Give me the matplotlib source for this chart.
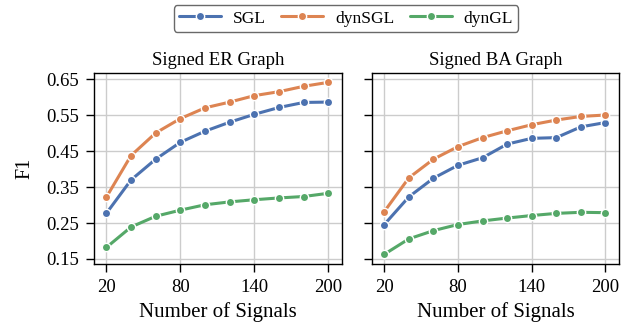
import matplotlib
matplotlib.use("Agg")
import matplotlib.pyplot as plt
import seaborn as sns

sns.set_theme(style="whitegrid")
plt.rcParams['font.family'] = ['Liberation Serif', 'DejaVu Serif']
plt.rcParams['mathtext.fontset'] = 'stix'

signals = [20, 40, 60, 80, 100, 120, 140, 160, 180, 200]
xticks = [20, 80, 140, 200]
yticks = [0.15, 0.25, 0.35, 0.45, 0.55, 0.65]
titles = ["Signed ER Graph", "Signed BA Graph"]
methods = ["SGL", "dynSGL", "dynGL"]

er_sgl = [0.277, 0.370, 0.428, 0.475, 0.506, 0.531, 0.553, 0.572, 0.586, 0.587]
er_dynsgl = [0.322, 0.438, 0.501, 0.541, 0.571, 0.587, 0.605, 0.616, 0.631, 0.642]
er_dyngl = [0.182, 0.239, 0.269, 0.286, 0.301, 0.309, 0.315, 0.320, 0.324, 0.333]

ba_sgl = [0.246, 0.323, 0.375, 0.411, 0.432, 0.470, 0.486, 0.488, 0.518, 0.530]
ba_dynsgl = [0.282, 0.376, 0.428, 0.463, 0.488, 0.507, 0.524, 0.537, 0.547, 0.551]
ba_dyngl = [0.163, 0.206, 0.229, 0.246, 0.256, 0.264, 0.271, 0.277, 0.280, 0.279]

panels = [[er_sgl, er_dynsgl, er_dyngl], [ba_sgl, ba_dynsgl, ba_dyngl]]
colors = sns.color_palette("deep")[:3]

fig = plt.figure(figsize=(6.36, 3.35), dpi=100)
W, H = 636, 335
axes = [fig.add_axes([94/W, 1 - 264/H, (342-94)/W, (264-73)/H]),
        fig.add_axes([372/W, 1 - 264/H, (619-372)/W, (264-73)/H])]

handles = []
for i, ax in enumerate(axes):
    for j, series in enumerate(panels[i]):
        h, = ax.plot(signals, series, color=colors[j], lw=2.2, marker='o', ms=6,
                     markeredgecolor='white', markeredgewidth=1, label=methods[j])
        if i == 0:
            handles.append(h)
    ax.set_xlim(10, 211)
    ax.set_ylim(0.136, 0.668)
    ax.set_xticks(xticks)
    ax.set_yticks(yticks)
    ax.set_yticklabels([f"{t:.2f}" for t in yticks] if i == 0 else [])
    ax.set_title(titles[i], fontsize=13.5, pad=6)
    ax.set_xlabel("Number of Signals", fontsize=15, labelpad=4)
    for s in ax.spines.values():
        s.set_color('black')
        s.set_linewidth(1.0)
    ax.tick_params(axis='both', which='both', direction='out', length=6, width=1,
                   color='black', labelsize=13.5, left=True, bottom=True, pad=5,
                   labelcolor='black')
    ax.grid(True, color='#cccccc', lw=1)
axes[0].set_ylabel("F1", fontsize=14.5, labelpad=8, color='black')
for ax in axes:
    ax.title.set_color('black')
    ax.xaxis.label.set_color('black')

leg = fig.legend(handles=handles, labels=methods, loc='upper center', ncol=3,
                 bbox_to_anchor=(346/W, 1.0), fontsize=12.5, frameon=True,
                 edgecolor='#444444', fancybox=True, handlelength=2.4,
                 handletextpad=0.7, columnspacing=0.9, borderpad=0.3,
                 borderaxespad=0.3)
for t in leg.get_texts():
    t.set_color('black')

fig.savefig("out.png", dpi=100)
